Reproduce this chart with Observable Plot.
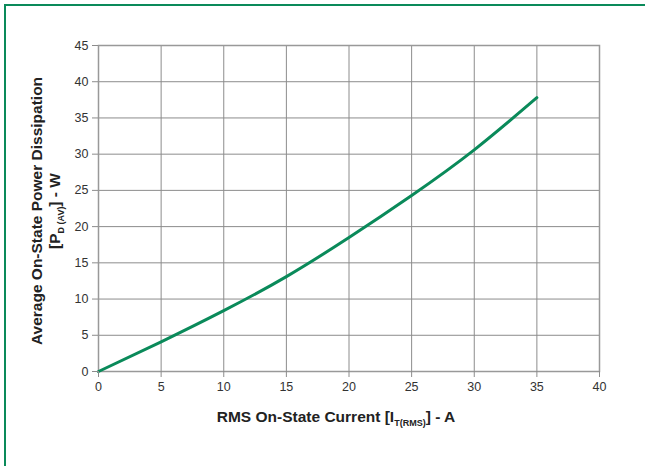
<!DOCTYPE html>
<html>
<head>
<meta charset="utf-8">
<script src="https://cdn.jsdelivr.net/npm/d3@7"></script>
<script src="https://cdn.jsdelivr.net/npm/@observablehq/plot@0.6"></script>
<style>
  html, body { margin: 0; padding: 0; background: #fff; }
  #wrap { position: relative; width: 645px; height: 466px; overflow: hidden; }
  #border { position: absolute; left: 4px; top: 4px; width: 700px; height: 500px;
            border-top: 2px solid #0a8a5a; border-left: 2px solid #0a8a5a; box-sizing: border-box; }
  #chart { position: absolute; left: 0; top: 0; }
</style>
</head>
<body>
<div id="wrap"><div id="border"></div><div id="chart"></div></div>
<script>
const current = [0, 5, 10, 15, 20, 25, 30, 35];
const power = [0, 4.1, 8.4, 13.1, 18.5, 24.3, 30.6, 37.8];
const xTicks = [0, 5, 10, 15, 20, 25, 30, 35, 40];
const yTicks = [0, 5, 10, 15, 20, 25, 30, 35, 40, 45];

const data = current.map((c, i) => ({x: c, y: power[i]}));
const gray = "#8c8c8c";

const plot = Plot.plot({
  width: 645,
  height: 466,
  marginLeft: 98,
  marginRight: 46,
  marginTop: 45,
  marginBottom: 95,
  style: {fontFamily: "'Liberation Sans', Arial, sans-serif", fontSize: "12.5px", color: "#333", background: "transparent"},
  x: {domain: [0, 40], ticks: xTicks, label: null},
  y: {domain: [0, 45], ticks: yTicks, label: null},
  marks: [
    Plot.gridX(xTicks, {stroke: gray, strokeOpacity: 1, strokeWidth: 1}),
    Plot.gridY(yTicks, {stroke: gray, strokeOpacity: 1, strokeWidth: 1}),
    Plot.frame({stroke: "#999", strokeWidth: 1.5}),
    Plot.line(data, {x: "x", y: "y", stroke: "#0a8a5a", strokeWidth: 3, curve: "natural"}),
    Plot.axisX(xTicks, {tickSize: 6, tickPadding: 5, stroke: gray, fill: "#333"}),
    Plot.axisY(yTicks, {tickSize: 6, tickPadding: 4, stroke: gray, fill: "#333"})
  ]
});
document.getElementById("chart").appendChild(plot);

const svg = d3.select(plot);
const lblFont = "'Liberation Sans Narrow', 'Liberation Sans', Arial, sans-serif";
// X axis label
const xl = svg.append("text")
  .attr("x", 336).attr("y", 422)
  .attr("text-anchor", "middle")
  .attr("font-family", lblFont).attr("font-weight", "bold").attr("font-size", 15.5)
  .attr("fill", "#222");
xl.append("tspan").text("RMS On-State Current [I");
xl.append("tspan").attr("font-size", 9).attr("dy", 4).text("T(RMS)");
xl.append("tspan").attr("dy", -4).text("] - A");

// Y axis label (two lines)
const yg = svg.append("g").attr("transform", "translate(0,211) rotate(-90)");
yg.append("text")
  .attr("x", 0).attr("y", 42)
  .attr("text-anchor", "middle")
  .attr("font-family", lblFont).attr("font-weight", "bold").attr("font-size", 15.5)
  .attr("fill", "#222")
  .text("Average On-State Power Dissipation");
const y2 = yg.append("text")
  .attr("x", 0).attr("y", 60)
  .attr("text-anchor", "middle")
  .attr("font-family", lblFont).attr("font-weight", "bold").attr("font-size", 15.5)
  .attr("fill", "#222");
y2.append("tspan").text("[P");
y2.append("tspan").attr("font-size", 9).attr("dy", 4).text("D (AV)");
y2.append("tspan").attr("dy", -4).text("] - W");
</script>
</body>
</html>
